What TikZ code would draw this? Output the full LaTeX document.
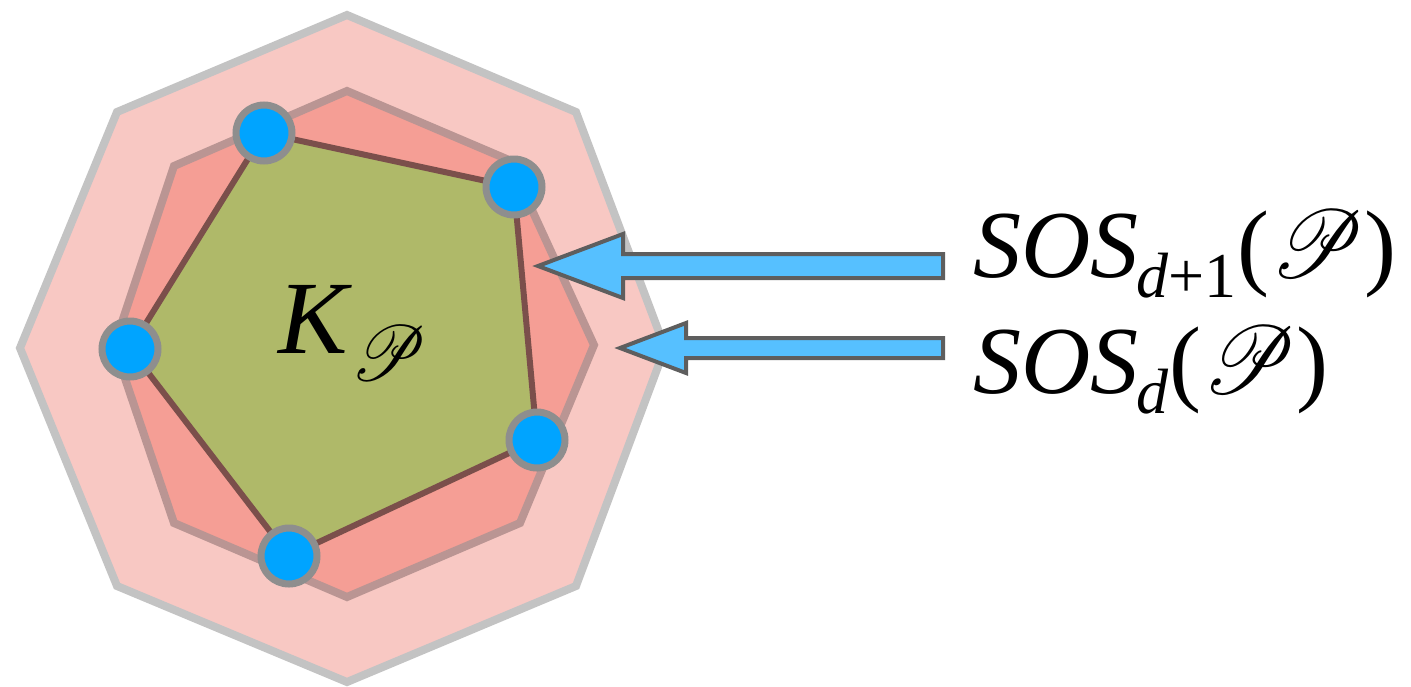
\documentclass[tikz,border=0pt]{standalone}
\usepackage{graphicx}
\usepackage{fontspec}
\setmainfont{Liberation Serif}
\usepackage{mathrsfs}
\DeclareFontFamily{U}{rsfs}{\skewchar\font127 }
\DeclareFontShape{U}{rsfs}{m}{n}{<-6>rsfs5<6-8>rsfs7<8->rsfs10}{}
\usetikzlibrary{calc}
\definecolor{outerfill}{HTML}{F8C8C3}
\definecolor{outerline}{HTML}{C3C3C3}
\definecolor{midfill}{HTML}{F59E95}
\definecolor{midline}{HTML}{BA9593}
\definecolor{pentfill}{HTML}{AFB969}
\definecolor{pentline}{HTML}{7B4F4B}
\definecolor{dotfill}{HTML}{00A4FF}
\definecolor{dotline}{HTML}{8E8E8E}
\definecolor{arrfill}{HTML}{56C0FF}
\definecolor{arrline}{HTML}{5E5E5E}
\newcommand{\mysub}[1]{\raisebox{-20pt}{\fontsize{64}{70}\selectfont #1}}
\newcommand{\scrP}[1]{\scalebox{0.88}[1]{\fontsize{#1}{#1}\selectfont$\mathscr{P}$}}
\tikzset{
  outerpoly/.style={fill=outerfill,draw=outerline,line width=8pt,line join=miter},
  midpoly/.style={fill=midfill,draw=midline,line width=8pt,line join=miter},
  pentpoly/.style={fill=pentfill,draw=pentline,line width=6pt,line join=round},
  vdot/.style={circle,fill=dotfill,draw=dotline,line width=7pt,minimum size=56pt,inner sep=0pt},
  fatarrow/.style={fill=arrfill,draw=arrline,line width=4pt,line join=miter},
  biglabel/.style={inner sep=0pt,anchor=base west,font=\fontsize{96}{110}\selectfont},
  klabel/.style={inner sep=0pt,anchor=base west,font=\fontsize{104}{120}\selectfont}
}
\begin{document}
\begin{tikzpicture}[x=1pt,y=-1pt]
\useasboundingbox (0,0) rectangle (1411,686);
% outer octagon
\coordinate (o1) at (347,15);
\coordinate (o2) at (576,112);
\coordinate (o3) at (665,348);
\coordinate (o4) at (576,586);
\coordinate (o5) at (347,682);
\coordinate (o6) at (117,586);
\coordinate (o7) at (20,348);
\coordinate (o8) at (117,112);
\draw[outerpoly] (o1)--(o2)--(o3)--(o4)--(o5)--(o6)--(o7)--(o8)--cycle;
% middle octagon
\coordinate (m1) at (347,91);
\coordinate (m2) at (509,160);
\coordinate (m3) at (594,345);
\coordinate (m4) at (520,523);
\coordinate (m5) at (347,597);
\coordinate (m6) at (174,523);
\coordinate (m7) at (114,346);
\coordinate (m8) at (174,166);
\draw[midpoly] (m1)--(m2)--(m3)--(m4)--(m5)--(m6)--(m7)--(m8)--cycle;
% pentagon vertices
\coordinate (p1) at (264,133);
\coordinate (p2) at (514,187);
\coordinate (p3) at (537,440);
\coordinate (p4) at (289,556);
\coordinate (p5) at (130,349);
\draw[pentpoly] (p1)--(p2)--(p3)--(p4)--(p5)--cycle;
\node[vdot] (v1) at (p1) {};
\node[vdot] (v2) at (p2) {};
\node[vdot] (v3) at (p3) {};
\node[vdot] (v4) at (p4) {};
\node[vdot] (v5) at (p5) {};
% label inside
\node[klabel] (k) at (278,353) {\itshape K\kern4pt\raisebox{-27pt}{\scrP{78}}};
% labels on the right
\node[biglabel] (l1) at (973,277) {{\itshape SOS}\kern-2pt\mysub{{\itshape d}+1}\kern1pt(\kern2pt\scrP{96}\kern1pt)};
\node[biglabel] (l2) at (973,393) {{\itshape SOS}\kern-2pt\mysub{\itshape d}\kern1pt(\kern2pt\scrP{96}\kern1pt)};
% fat arrows
\coordinate (t1) at (538,266);
\coordinate (e1) at (943,266);
\draw[fatarrow] (t1) -- ($(t1)+(85,-32)$) -- ($(t1)+(85,-12)$) -- ($(e1)+(0,-12)$)
  -- ($(e1)+(0,12)$) -- ($(t1)+(85,12)$) -- ($(t1)+(85,32)$) -- cycle;
\coordinate (t2) at (620,348);
\coordinate (e2) at (943,348);
\draw[fatarrow] (t2) -- ($(t2)+(66,-25)$) -- ($(t2)+(66,-10)$) -- ($(e2)+(0,-10)$)
  -- ($(e2)+(0,10)$) -- ($(t2)+(66,10)$) -- ($(t2)+(66,25)$) -- cycle;
\end{tikzpicture}
\end{document}
